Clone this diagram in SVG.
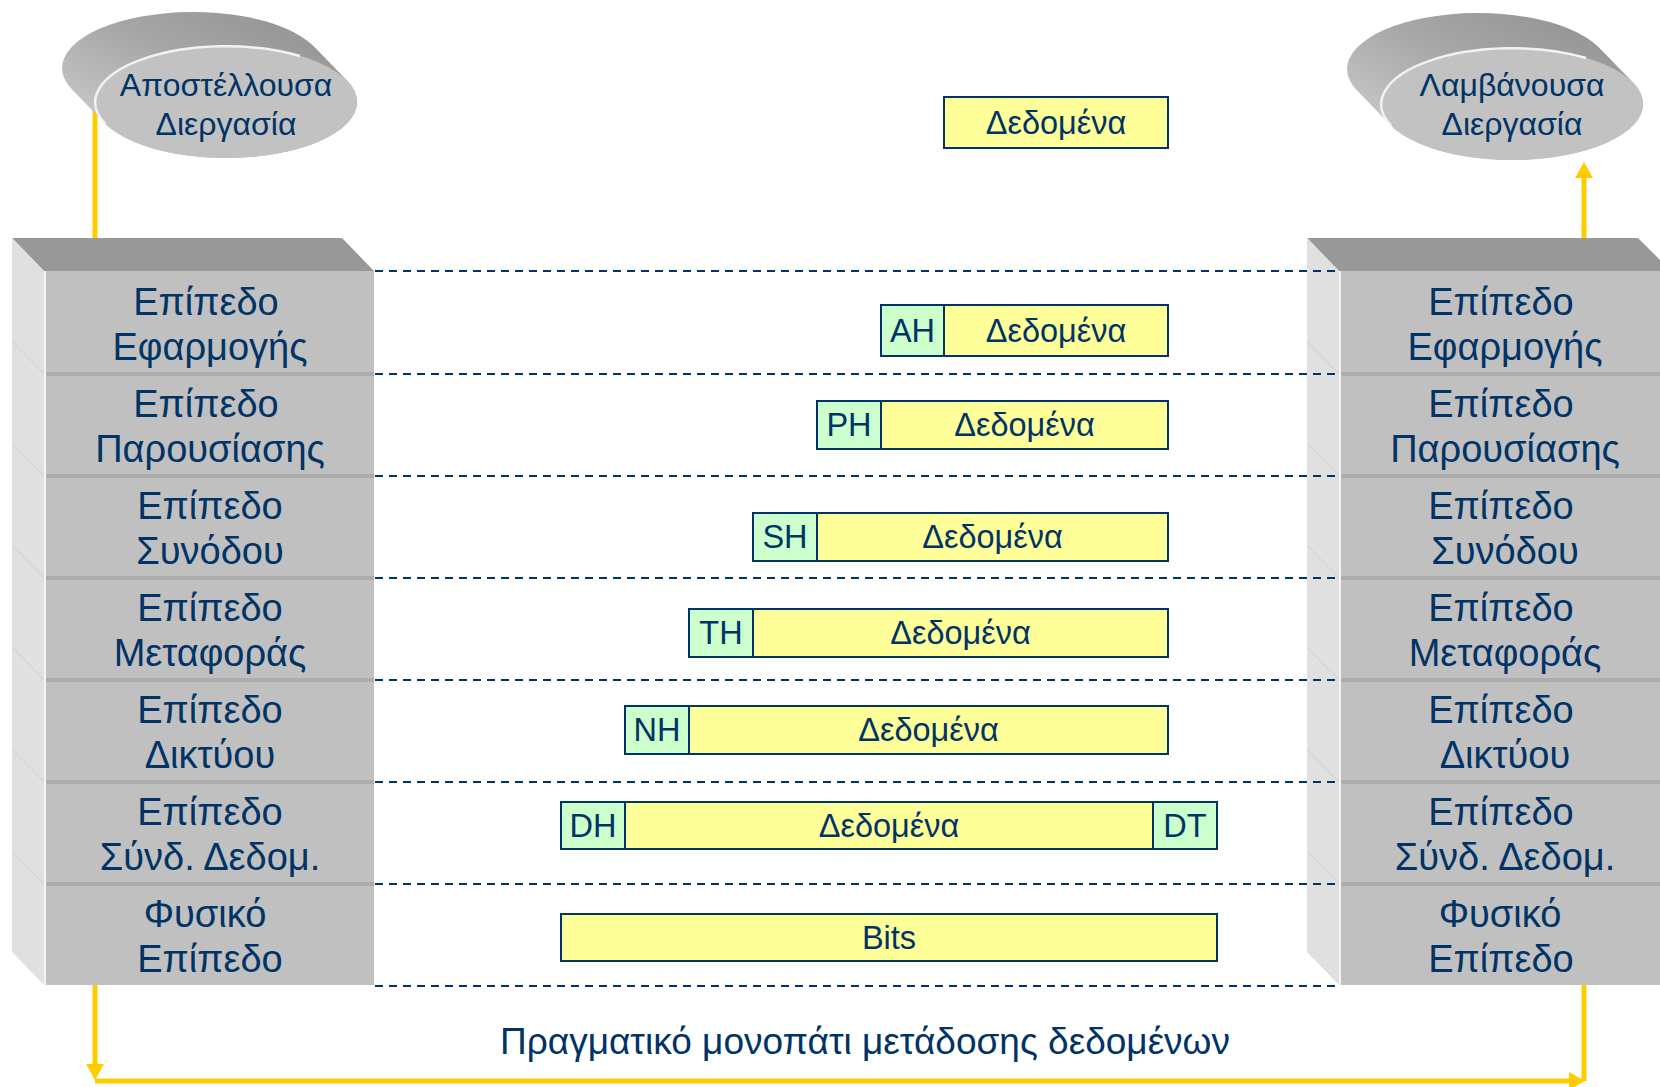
<svg xmlns="http://www.w3.org/2000/svg" width="1660" height="1087" viewBox="0 0 1660 1087">
<style>
  text { font-family: "Liberation Sans", Arial, sans-serif; fill: #003366; text-anchor: middle; }
  .proc { font-size: 32px; }
  .layer { font-size: 38px; }
  .pk { font-size: 32.5px; }
  .cap { font-size: 37px; }
  .front { fill: #c0c0c0; }
  .side { fill: #e0e0e0; }
  .top { fill: #989898; }
  .band { fill: #acacac; }
  .edge { stroke: #f4f4f4; stroke-width: 2; }
  .crease { stroke: #cfcfcf; stroke-width: 1; fill: none; }
  .data { fill: #ffff99; stroke: #003366; stroke-width: 2; }
  .hdr { fill: #ccffcc; stroke: #003366; stroke-width: 2; }
  .dash { stroke: #003366; stroke-width: 2; stroke-dasharray: 8 6; fill: none; }
  .flow { stroke: #ffcc00; stroke-width: 5; fill: none; }
  .ell { fill: #c2c2c2; }
  .rim { stroke: #f2f2f2; stroke-width: 2.5; fill: none; }
</style>
<defs>
  <linearGradient id="disc" x1="0" y1="1" x2="1" y2="0">
    <stop offset="0" stop-color="#d6d6d6"/>
    <stop offset="0.55" stop-color="#a6a6a6"/>
    <stop offset="1" stop-color="#8e8e8e"/>
  </linearGradient>
  <marker id="head" viewBox="0 0 16 18" refX="6" refY="9" markerWidth="16" markerHeight="18" orient="auto" markerUnits="userSpaceOnUse">
    <path d="M0,0 L16,9 L0,18 Z" fill="#ffcc00"/>
  </marker>
</defs>

<g id="connectors">
  <path class="flow" d="M95,105 V1070" marker-end="url(#head)"/>
  <path class="flow" d="M95,1081 H1575" marker-end="url(#head)"/>
  <path class="flow" d="M1584,1081 V172" marker-end="url(#head)"/>
</g>

<g id="sender">
  <path fill="url(#disc)" d="M72.5,90 A131,56 0 0 1 313.5,46 L346.5,80 A131,56 0 0 1 105.5,124 Z"/>
  <ellipse class="ell" cx="226" cy="102" rx="131" ry="56"/>
  <path class="rim" d="M105.5,124 A131,56 0 0 1 300,56"/>
  <text class="proc" x="226" y="96">Αποστέλλουσα</text>
  <text class="proc" x="226" y="135">Διεργασία</text>
</g>

<g id="receiver">
  <path fill="url(#disc)" d="M1357.5,91 A131,56 0 0 1 1598.5,47 L1632.5,82 A131,56 0 0 1 1391.5,126 Z"/>
  <ellipse class="ell" cx="1512" cy="104" rx="131" ry="56"/>
  <path class="rim" d="M1391.5,126 A131,56 0 0 1 1586,58"/>
  <text class="proc" x="1512" y="96">Λαμβάνουσα</text>
  <text class="proc" x="1512" y="135">Διεργασία</text>
</g>

<g id="stack-left">
  <polygon class="top" points="12,238 342,238 374,271 44,271"/>
  <polygon class="side" points="12,238 44,271 44,985 12,952"/>
  <rect class="front" x="44" y="271" width="330" height="714"/>
  <g class="crease">
    <line x1="12" y1="341" x2="44" y2="374"/><line x1="12" y1="443" x2="44" y2="476"/>
    <line x1="12" y1="545" x2="44" y2="578"/><line x1="12" y1="647" x2="44" y2="680"/>
    <line x1="12" y1="749" x2="44" y2="782"/><line x1="12" y1="851" x2="44" y2="884"/>
  </g>
  <g class="band">
    <rect x="44" y="372" width="330" height="4"/><rect x="44" y="474" width="330" height="4"/>
    <rect x="44" y="576" width="330" height="4"/><rect x="44" y="678" width="330" height="4"/>
    <rect x="44" y="780" width="330" height="4"/><rect x="44" y="882" width="330" height="4"/>
  </g>
  <line class="edge" x1="45" y1="271" x2="45" y2="985"/>
</g>
<g id="layer-left-7"><text class="layer" x="206" y="315">Επίπεδο</text><text class="layer" x="210" y="360">Εφαρμογής</text></g>
<g id="layer-left-6"><text class="layer" x="206" y="417">Επίπεδο</text><text class="layer" x="210" y="462">Παρουσίασης</text></g>
<g id="layer-left-5"><text class="layer" x="210" y="519">Επίπεδο</text><text class="layer" x="210" y="564">Συνόδου</text></g>
<g id="layer-left-4"><text class="layer" x="210" y="621">Επίπεδο</text><text class="layer" x="210" y="666">Μεταφοράς</text></g>
<g id="layer-left-3"><text class="layer" x="210" y="723">Επίπεδο</text><text class="layer" x="210" y="768">Δικτύου</text></g>
<g id="layer-left-2"><text class="layer" x="210" y="825">Επίπεδο</text><text class="layer" x="210" y="870">Σύνδ. Δεδομ.</text></g>
<g id="layer-left-1"><text class="layer" x="205" y="927">Φυσικό</text><text class="layer" x="210" y="972">Επίπεδο</text></g>

<g id="stack-right">
  <polygon class="top" points="1307,238 1638,238 1671,271 1339,271"/>
  <polygon class="side" points="1307,238 1339,271 1339,985 1307,952"/>
  <rect class="front" x="1339" y="271" width="340" height="714"/>
  <g class="crease">
    <line x1="1307" y1="341" x2="1339" y2="374"/><line x1="1307" y1="443" x2="1339" y2="476"/>
    <line x1="1307" y1="545" x2="1339" y2="578"/><line x1="1307" y1="647" x2="1339" y2="680"/>
    <line x1="1307" y1="749" x2="1339" y2="782"/><line x1="1307" y1="851" x2="1339" y2="884"/>
  </g>
  <g class="band">
    <rect x="1339" y="372" width="330" height="4"/><rect x="1339" y="474" width="330" height="4"/>
    <rect x="1339" y="576" width="330" height="4"/><rect x="1339" y="678" width="330" height="4"/>
    <rect x="1339" y="780" width="330" height="4"/><rect x="1339" y="882" width="330" height="4"/>
  </g>
  <line class="edge" x1="1340" y1="271" x2="1340" y2="985"/>
</g>
<g id="layer-right-7"><text class="layer" x="1501" y="315">Επίπεδο</text><text class="layer" x="1505" y="360">Εφαρμογής</text></g>
<g id="layer-right-6"><text class="layer" x="1501" y="417">Επίπεδο</text><text class="layer" x="1505" y="462">Παρουσίασης</text></g>
<g id="layer-right-5"><text class="layer" x="1501" y="519">Επίπεδο</text><text class="layer" x="1505" y="564">Συνόδου</text></g>
<g id="layer-right-4"><text class="layer" x="1501" y="621">Επίπεδο</text><text class="layer" x="1505" y="666">Μεταφοράς</text></g>
<g id="layer-right-3"><text class="layer" x="1501" y="723">Επίπεδο</text><text class="layer" x="1505" y="768">Δικτύου</text></g>
<g id="layer-right-2"><text class="layer" x="1501" y="825">Επίπεδο</text><text class="layer" x="1505" y="870">Σύνδ. Δεδομ.</text></g>
<g id="layer-right-1"><text class="layer" x="1500" y="927">Φυσικό</text><text class="layer" x="1501" y="972">Επίπεδο</text></g>

<g id="peer-lines">
  <line class="dash" x1="375" y1="271" x2="1337" y2="271"/>
  <line class="dash" x1="375" y1="374" x2="1337" y2="374"/>
  <line class="dash" x1="375" y1="476" x2="1337" y2="476"/>
  <line class="dash" x1="375" y1="578" x2="1337" y2="578"/>
  <line class="dash" x1="375" y1="680" x2="1337" y2="680"/>
  <line class="dash" x1="375" y1="782" x2="1337" y2="782"/>
  <line class="dash" x1="375" y1="884" x2="1337" y2="884"/>
  <line class="dash" x1="375" y1="986" x2="1337" y2="986"/>
</g>

<g id="pkt-data">
  <rect class="data" x="944" y="97" width="224" height="51"/>
  <text class="pk" x="1056" y="134">Δεδομένα</text>
</g>
<g id="pkt-app">
  <rect class="hdr" x="881" y="305" width="63" height="51"/>
  <rect class="data" x="944" y="305" width="224" height="51"/>
  <text class="pk" x="912.5" y="342">AH</text>
  <text class="pk" x="1056" y="342">Δεδομένα</text>
</g>
<g id="pkt-pres">
  <rect class="hdr" x="817" y="401" width="64" height="48"/>
  <rect class="data" x="881" y="401" width="287" height="48"/>
  <text class="pk" x="849" y="436">PH</text>
  <text class="pk" x="1024.5" y="436">Δεδομένα</text>
</g>
<g id="pkt-sess">
  <rect class="hdr" x="753" y="513" width="64" height="48"/>
  <rect class="data" x="817" y="513" width="351" height="48"/>
  <text class="pk" x="785" y="548">SH</text>
  <text class="pk" x="992.5" y="548">Δεδομένα</text>
</g>
<g id="pkt-trans">
  <rect class="hdr" x="689" y="609" width="64" height="48"/>
  <rect class="data" x="753" y="609" width="415" height="48"/>
  <text class="pk" x="721" y="644">TH</text>
  <text class="pk" x="960.5" y="644">Δεδομένα</text>
</g>
<g id="pkt-net">
  <rect class="hdr" x="625" y="706" width="64" height="48"/>
  <rect class="data" x="689" y="706" width="479" height="48"/>
  <text class="pk" x="657" y="741">NH</text>
  <text class="pk" x="928.5" y="741">Δεδομένα</text>
</g>
<g id="pkt-link">
  <rect class="hdr" x="561" y="802" width="64" height="47"/>
  <rect class="data" x="625" y="802" width="528" height="47"/>
  <rect class="hdr" x="1153" y="802" width="64" height="47"/>
  <text class="pk" x="593" y="837">DH</text>
  <text class="pk" x="889" y="837">Δεδομένα</text>
  <text class="pk" x="1185" y="837">DT</text>
</g>
<g id="pkt-phys">
  <rect class="data" x="561" y="914" width="656" height="47"/>
  <text class="pk" x="889" y="949">Bits</text>
</g>

<text class="cap" x="865" y="1054">Πραγματικό μονοπάτι μετάδοσης δεδομένων</text>
</svg>
